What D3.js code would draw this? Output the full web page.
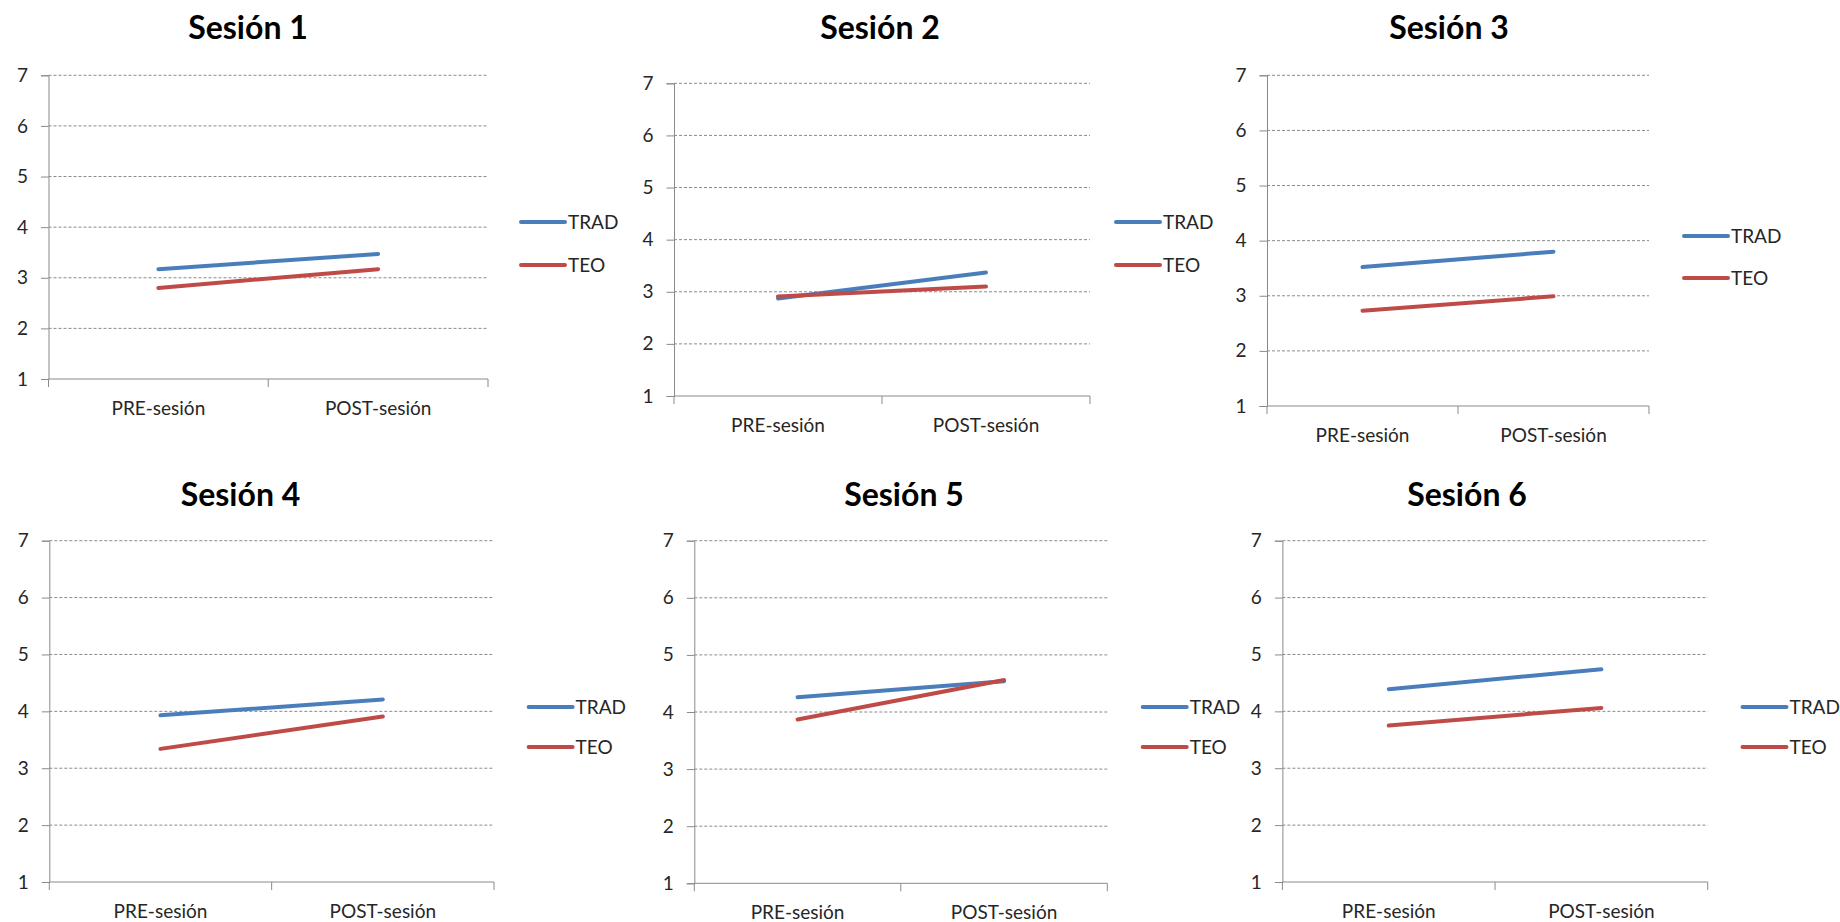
<!DOCTYPE html>
<html>
<head>
<meta charset="utf-8">
<script src="https://cdn.jsdelivr.net/npm/d3@7"></script>
<style>
  body { margin: 0; background: #fff; }
  text { font-family: Lato, "Open Sans", sans-serif; }
</style>
</head>
<body>
<svg id="chart" width="1840" height="922"></svg>
<script>
// data
var sessions = ['Sesión 1', 'Sesión 2', 'Sesión 3', 'Sesión 4', 'Sesión 5', 'Sesión 6'];
var phases = ['PRE-sesión', 'POST-sesión'];
var seriesNames = ['TRAD', 'TEO'];
var tradValues = [[3.17, 3.47], [2.87, 3.37], [3.52, 3.80], [3.93, 4.21], [4.26, 4.54], [4.39, 4.74]];
var teoValues = [[2.80, 3.17], [2.91, 3.10], [2.73, 2.99], [3.34, 3.91], [3.87, 4.56], [3.75, 4.06]];
var yTicks = [1, 2, 3, 4, 5, 6, 7];

var colors = ['#4a7ebb', '#be4b48'];

// where each small chart sits
var layout = [
    { left: 48.5, right: 488, top: 75.3, bottom: 379, titleX: 248, titleY: 39, legX: 521, legY: [222, 265] },
    { left: 674, right: 1090, top: 83.3, bottom: 396, titleX: 880, titleY: 39, legX: 1116, legY: [222, 265] },
    { left: 1267, right: 1649, top: 75.3, bottom: 406, titleX: 1449, titleY: 39, legX: 1684, legY: [236, 278] },
    { left: 49.3, right: 494, top: 540.7, bottom: 882, titleX: 240.5, titleY: 506, legX: 528.6, legY: [707, 747] },
    { left: 694.3, right: 1107.3, top: 540.7, bottom: 883.3, titleX: 904, titleY: 506, legX: 1142.7, legY: [707, 747] },
    { left: 1282.4, right: 1707.7, top: 540.7, bottom: 882, titleX: 1467, titleY: 506, legX: 1742.5, legY: [707, 747] }
];

var svg = d3.select('#chart');

sessions.forEach(function(name, i) {
    var box = layout[i];
    var g = svg.append('g');

    var x = d3.scaleBand().domain(phases).range([box.left, box.right]);
    var y = d3.scaleLinear().domain([1, 7]).range([box.bottom, box.top]);

    // title
    g.append('text')
        .attr('x', box.titleX)
        .attr('y', box.titleY)
        .attr('text-anchor', 'middle')
        .attr('font-size', '32px')
        .attr('font-weight', 'bold')
        .attr('fill', '#000')
        .text(name);

    // dashed gridlines
    g.selectAll('line.grid')
        .data(yTicks.slice(1))
        .enter()
        .append('line')
        .attr('class', 'grid')
        .attr('x1', box.left)
        .attr('x2', box.right)
        .attr('y1', function(d) { return y(d); })
        .attr('y2', function(d) { return y(d); })
        .attr('stroke', '#8a8a8a')
        .attr('stroke-width', 1)
        .attr('stroke-dasharray', '3,2');

    // y axis
    var yAxis = g.append('g')
        .attr('transform', 'translate(' + box.left + ',0)')
        .call(d3.axisLeft(y).tickValues(yTicks).tickSize(7.5).tickPadding(13).tickFormat(d3.format('d')));
    yAxis.select('.domain').attr('stroke', '#8a8a8a');
    yAxis.selectAll('.tick line').attr('stroke', '#8a8a8a');
    yAxis.selectAll('.tick text')
        .attr('font-size', '19px')
        .attr('fill', '#262626')
        .style('font-family', 'Lato, sans-serif');

    // x axis line + boundary ticks
    g.append('line')
        .attr('x1', box.left).attr('x2', box.right)
        .attr('y1', y(1)).attr('y2', y(1))
        .attr('stroke', '#8a8a8a');
    var bounds = phases.map(function(p) { return x(p); }).concat([x.range()[1]]);
    g.selectAll('line.xtick')
        .data(bounds)
        .enter()
        .append('line')
        .attr('class', 'xtick')
        .attr('x1', function(d) { return d; })
        .attr('x2', function(d) { return d; })
        .attr('y1', y(1))
        .attr('y2', y(1) + 8)
        .attr('stroke', '#8a8a8a');
    g.selectAll('text.xlab')
        .data(phases)
        .enter()
        .append('text')
        .attr('class', 'xlab')
        .attr('x', function(d) { return x(d) + x.bandwidth() / 2; })
        .attr('y', y(1) + 35.5)
        .attr('text-anchor', 'middle')
        .attr('font-size', '19px')
        .attr('fill', '#262626')
        .text(function(d) { return d; });

    // lines
    var line = d3.line()
        .x(function(d, j) { return x(phases[j]) + x.bandwidth() / 2; })
        .y(function(d) { return y(d); });

    [tradValues[i], teoValues[i]].forEach(function(vals, s) {
        g.append('path')
            .datum(vals)
            .attr('d', line)
            .attr('fill', 'none')
            .attr('stroke', colors[s])
            .attr('stroke-width', 4)
            .attr('stroke-linecap', 'round');
    });

    // legend
    seriesNames.forEach(function(sname, s) {
        var ly = box.legY[s];
        g.append('line')
            .attr('x1', box.legX).attr('x2', box.legX + 44)
            .attr('y1', ly).attr('y2', ly)
            .attr('stroke', colors[s])
            .attr('stroke-width', 4)
            .attr('stroke-linecap', 'round');
        g.append('text')
            .attr('x', box.legX + 47)
            .attr('y', ly + 7)
            .attr('font-size', '19px')
            .attr('fill', '#262626')
            .text(sname);
    });
});
</script>
</body>
</html>
